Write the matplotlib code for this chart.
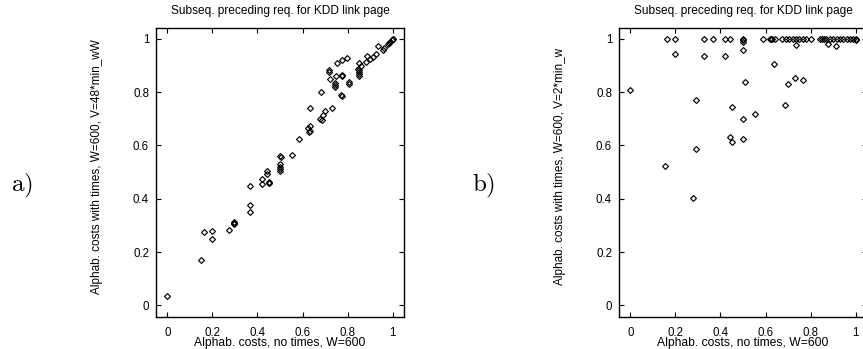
import numpy as np
import matplotlib.pyplot as plt

plt.rcParams['font.family'] = ['Liberation Sans', 'DejaVu Sans']
plt.rcParams['mathtext.fontset'] = 'cm'

title = 'Subseq. preceding req. for KDD link page'
xlabel = 'Alphab. costs, no times, W=600'
ylabel_a = 'Alphab. costs with times, W=600, V=48*min_wW'
ylabel_b = 'Alphab. costs with times, W=600, V=2*min_w'
ticks = [0, 0.2, 0.4, 0.6, 0.8, 1]
tick_labels = ['0', '0.2', '0.4', '0.6', '0.8', '1']

# panel a)
ax_x = [0.0, 0.151, 0.161, 0.198, 0.198, 0.276, 0.294, 0.294, 0.296, 0.368, 0.368,
        0.365, 0.419, 0.42, 0.45, 0.45, 0.452, 0.443, 0.443, 0.502, 0.5, 0.502, 0.498,
        0.502, 0.504, 0.554, 0.586, 0.625, 0.632, 0.635, 0.628, 0.634, 0.678, 0.685,
        0.69, 0.70, 0.681, 0.73, 0.742, 0.742, 0.745, 0.771, 0.773, 0.808, 0.808,
        0.719, 0.719, 0.722, 0.749, 0.755, 0.774, 0.798, 0.777, 0.777, 0.845, 0.850,
        0.852, 0.852, 0.852, 0.852, 0.86, 0.882, 0.886, 0.897, 0.911, 0.926, 0.936,
        0.955, 0.96, 0.98, 0.985, 0.99, 0.995, 1.0, 1.0]
ay = [0.035, 0.169, 0.275, 0.2775, 0.25, 0.284, 0.3125, 0.306, 0.31, 0.375, 0.35,
      0.4475, 0.4725, 0.454, 0.459, 0.463, 0.46, 0.494, 0.506, 0.504, 0.53, 0.52, 0.51,
      0.561, 0.556, 0.564, 0.624, 0.665, 0.674, 0.656, 0.649, 0.742, 0.70, 0.694,
      0.715, 0.73, 0.799, 0.74, 0.834, 0.82, 0.827, 0.79, 0.784, 0.84, 0.831,
      0.884, 0.874, 0.849, 0.861, 0.909, 0.921, 0.927, 0.865, 0.86, 0.887, 0.884,
      0.911, 0.874, 0.861, 0.868, 0.899, 0.912, 0.936, 0.924, 0.934, 0.943, 0.975,
      0.96, 0.965, 0.98, 0.985, 0.99, 0.995, 1.0, 0.998]

# panel b)
bx = [0.0, 0.152, 0.162, 0.199, 0.199, 0.277, 0.292, 0.292, 0.327, 0.327, 0.366,
      0.42, 0.42, 0.442, 0.442, 0.45, 0.45, 0.501, 0.501, 0.501, 0.501, 0.501, 0.501,
      0.509, 0.553, 0.587, 0.62, 0.625, 0.63, 0.636, 0.64, 0.675, 0.686, 0.69, 0.698,
      0.705, 0.72, 0.732, 0.735, 0.737, 0.75, 0.765, 0.768, 0.78, 0.80, 0.84, 0.85,
      0.86, 0.87, 0.879, 0.885, 0.90, 0.912, 0.915, 0.93, 0.945, 0.96, 0.975, 0.99,
      1.0, 1.0]
by = [0.81, 0.5225, 1.0, 1.0, 0.944, 0.404, 0.7725, 0.5875, 1.0, 0.9375, 1.0,
      1.0, 0.935, 1.0, 0.6325, 0.745, 0.614, 1.0, 0.995, 0.9575, 0.70, 0.6225, 0.99,
      0.8375, 0.72, 1.0, 1.0, 1.0, 1.0, 0.9075, 1.0, 1.0, 0.751, 1.0, 0.829,
      1.0, 1.0, 0.854, 1.0, 0.979, 1.0, 1.0, 0.8475, 1.0, 1.0, 1.0, 1.0,
      1.0, 1.0, 0.981, 1.0, 1.0, 0.9725, 1.0, 1.0, 1.0, 1.0, 1.0, 1.0,
      1.0, 0.997]

fig = plt.figure(figsize=(8.63, 3.49), dpi=100)
W, H = 863, 349


def panel(left, xs, ys, ylabel):
    ax = fig.add_axes([left / W, 32 / H, 248 / W, 289 / H])
    ax.plot(xs, ys, 'D', ms=3, mfc='none', mec='black', mew=0.85)
    ax.set_xlim(-0.05, 1.05)
    ax.set_ylim(-0.044, 1.041)
    ax.set_xticks(ticks)
    ax.set_xticklabels(tick_labels)
    ax.set_yticks(ticks)
    ax.set_yticklabels(tick_labels)
    ax.tick_params(direction='in', top=True, right=True, length=3.5, width=0.8,
                   labelsize=8.3, pad=5)
    ax.tick_params(axis='x', pad=7)
    for s in ax.spines.values():
        s.set_linewidth(1.0)
    ax.set_title(title, fontsize=8.6, pad=10)
    ax.set_xlabel(xlabel, fontsize=8.7, labelpad=-1)
    ax.set_ylabel(ylabel, fontsize=8.5)
    ax.yaxis.set_label_coords(-0.215, 0.52)
    return ax


panel(156, ax_x, ay, ylabel_a)
panel(619, bx, by, ylabel_b)

fig.text(21.5 / W, 1 - 186 / H, r'$\mathrm{a)}$', fontsize=18, ha='center', va='center')
fig.text(484 / W, 1 - 186 / H, r'$\mathrm{b)}$', fontsize=18, ha='center', va='center')

fig.savefig('out.png', dpi=100)
